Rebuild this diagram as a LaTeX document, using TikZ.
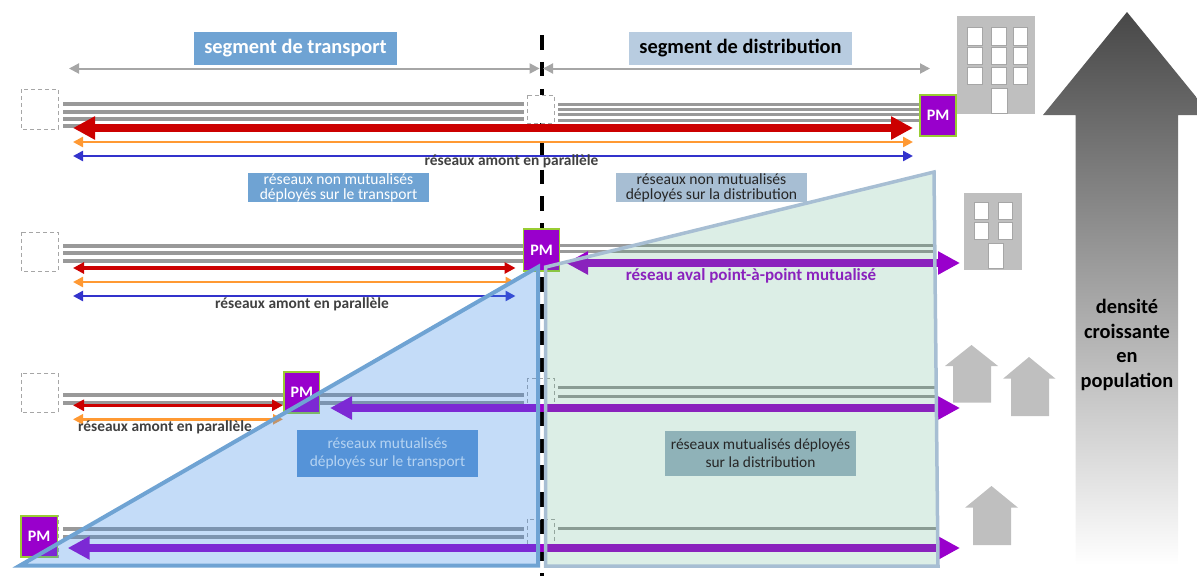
\documentclass[tikz,border=0pt]{standalone}
\usepackage{fontspec}
\setmainfont{Carlito}
\usetikzlibrary{arrows.meta}
\definecolor{pmv}{HTML}{9900CC}
\definecolor{pmg}{HTML}{99CC33}
\definecolor{lgray}{HTML}{999999}
\definecolor{agray}{HTML}{A6A6A6}
\definecolor{bgray}{HTML}{BFBFBF}
\definecolor{tblue}{HTML}{6FA3D3}
\definecolor{dblue}{HTML}{B8CCE0}
\definecolor{dblueb}{HTML}{A7BED3}
\definecolor{red1}{HTML}{CC0000}
\definecolor{ora}{HTML}{FF9933}
\definecolor{blu}{HTML}{3333CC}
\definecolor{dtxt}{HTML}{404040}
\newcommand{\fs}[2]{\fontsize{#1}{#2}\selectfont}
\newcommand{\hlink}[5]{\coordinate (#1a) at (#3,#5);\coordinate (#1b) at (#4,#5);\draw[#2] (#1a) -- (#1b);}
\tikzset{
  x=1pt,y=-1pt,
  every node/.style={inner sep=0pt,outer sep=0pt},
  pmbox/.style={draw=pmg,line width=1.2pt,fill=pmv,text=white,font=\bfseries\fs{16}{18},anchor=center},
  dbox/.style={draw=agray,dashed,line width=.9pt,dash pattern=on 4pt off 3pt},
  gline/.style={draw=lgray,line width=#1},
  gline/.default=3pt,
  redthick/.style={draw=red1,line width=8pt,{Triangle[length=22pt,width=22pt]}-{Triangle[length=22pt,width=22pt]}},
  purp/.style={draw=pmv,line width=7.3pt,{Triangle[length=22pt,width=22pt]}-{Triangle[length=22pt,width=22pt]}},
  redthin/.style={draw=red1,line width=3.2pt,{Triangle[length=11pt,width=11pt]}-{Triangle[length=11pt,width=11pt]}},
  orathin/.style={draw=ora,line width=2.4pt,{Triangle[length=10pt,width=10pt]}-{Triangle[length=10pt,width=10pt]}},
  bluthin/.style={draw=blu,line width=2.4pt,{Triangle[length=10pt,width=10pt]}-{Triangle[length=10pt,width=10pt]}},
  grayarr/.style={draw=agray,line width=2pt,{Triangle[length=10pt,width=10pt]}-{Triangle[length=10pt,width=10pt]}},
  label/.style={font=\fs{15.6}{15},align=center,anchor=center},
  amont/.style={font=\bfseries\fs{15.4}{15},text=dtxt,anchor=center},
  win/.style={draw=agray,line width=1pt,fill=white},
  bld/.style={fill=bgray},
}
\begin{document}
\begin{tikzpicture}
\useasboundingbox (0,0) rectangle (1197,576);
% frontier
\coordinate (fa) at (541.7,33); \coordinate (fb) at (541.7,576);
\draw[line width=3.6pt,black,dash pattern=on 14.5pt off 12.4pt,dash phase=-2pt] (fa) -- (fb);

% big arrow
\shade[top color=black!72,bottom color=white] (1127,12) -- (1197,98) -- (1197,115) -- (1178,115) -- (1178,565) -- (1075.5,565) -- (1075.5,115) -- (1043,115) -- cycle;
\node[font=\bfseries\fs{20.4}{24.5},align=center,anchor=center] (dens) at (1127,345) {densité\\croissante\\en\\population};

% buildings
\fill[bld] (957,16) rectangle (1035,114);
\foreach \cx in {967.5,991.5,1013}{\foreach \cy/\hh in {27/18,47/17,67/17}{\draw[win] (\cx,\cy) rectangle ++(14.5,\hh);}}
\draw[win] (991.5,88) rectangle (1007,113);
\fill[bld] (964,193) rectangle (1022,270);
\foreach \cx in {974,998}{\foreach \cy in {202,222}{\draw[win] (\cx,\cy) rectangle ++(14.5,17);}}
\draw[win] (988,243) rectangle (1003,268);
% houses
\fill[bgray] (971.5,345) -- (998,366) -- (991,366) -- (991,402.7) -- (953,402.7) -- (953,366) -- (945,366) -- cycle;
\fill[bgray] (1029,357) -- (1055.5,378.7) -- (1049,378.7) -- (1049,416) -- (1011,416) -- (1011,378.7) -- (1003,378.7) -- cycle;
\fill[bgray] (991.5,486) -- (1018,507.7) -- (1011,507.7) -- (1011,545) -- (973,545) -- (973,507.7) -- (965,507.7) -- cycle;

% dashed boxes
\draw[dbox] (21,89) rectangle (58,129);
\draw[dbox,fill=white] (527,95) rectangle (554,123);
\draw[dbox] (21,232) rectangle (58,271);
\draw[dbox] (21,373) rectangle (58,412.7);
\draw[dbox] (527,378) rectangle (554,408);
\draw[dbox] (21,515) rectangle (58,557);
\draw[dbox] (527,519) rectangle (554,548);

% gray arrows
\hlink{ga}{grayarr}{69}{539.6}{68.5}
\hlink{gb}{grayarr}{543}{930}{68.5}

% fibre lines
\hlink{l1}{gline=4pt}{63}{524}{104}
\hlink{l2}{gline=4pt}{63}{524}{111.7}
\hlink{l3}{gline=4pt}{63}{524}{119.3}
\hlink{l4}{gline=4pt}{63}{524}{126}
\hlink{l5}{gline=3pt}{558}{921}{104}
\hlink{l6}{gline=3pt}{558}{921}{109.3}
\hlink{l7}{gline=3pt}{558}{921}{114.7}
\hlink{l8}{gline=3pt}{558}{921}{120}
\hlink{m1}{gline=4pt}{63}{524}{245.7}
\hlink{m2}{gline=4pt}{63}{524}{253.3}
\hlink{m3}{gline=4pt}{63}{524}{261}
\hlink{m4}{gline=3pt}{559}{933}{245.7}
\hlink{m5}{gline=3pt}{559}{933}{251.7}
\hlink{n1}{gline=4pt}{63}{524}{395}
\hlink{n2}{gline=4pt}{63}{524}{402.7}
\hlink{n3}{gline=3pt}{558}{938}{387.3}
\hlink{n4}{gline=3pt}{558}{938}{396.3}
\hlink{p1}{gline=4pt}{63}{524}{529}
\hlink{p2}{gline=4pt}{63}{524}{536.7}
\hlink{p3}{gline=3pt}{558}{936}{528.7}

% PM boxes
\node[pmbox,minimum width=36pt,minimum height=41pt] (pm1) at (938,115.5) {PM};
\node[pmbox,minimum width=36pt,minimum height=42pt] (pm2) at (541.5,250) {PM};
\node[pmbox,minimum width=35.5pt,minimum height=41pt] (pm3) at (301.8,392.5) {PM};
\node[pmbox,minimum width=36.4pt,minimum height=41pt] (pm4) at (39.2,536.5) {PM};

% upstream arrows
\hlink{ra}{redthick}{73}{913}{128}
\hlink{oa}{orathin}{73}{913}{142}
\hlink{ba}{bluthin}{73}{913}{156}
\hlink{rb}{redthin}{73}{515.5}{268}
\hlink{ob}{orathin}{73}{515.5}{282}
\hlink{bb}{bluthin}{73}{515.5}{296}
\hlink{rc}{redthin}{73}{283}{405.3}
\hlink{oc}{orathin}{73}{283}{419.3}

% downstream arrows
\hlink{pa}{purp}{566}{960}{263}
\hlink{pb}{purp}{330}{960}{408}
\hlink{pc}{purp}{67.7}{960}{548}

% texts on arrows
\node[amont] (t1) at (511.5,161) {réseaux amont en parallèle};
\node[amont] (t2) at (302,304) {réseaux amont en parallèle};
\node[amont] (t3) at (165,427) {réseaux amont en parallèle};
\node[font=\bfseries\fs{17}{16},text=pmv,anchor=center] (t4) at (751,276) {réseau aval point-à-point mutualisé};

% top labels
\node[fill=tblue,text=white,font=\bfseries\fs{20.4}{20},minimum width=203pt,minimum height=33pt,anchor=center] (segt) at (295.5,48.5) {segment de transport};
\node[fill=dblue,text=black,font=\bfseries\fs{20.4}{20},minimum width=223pt,minimum height=33pt,anchor=center] (segd) at (740.5,48.5) {segment de distribution};
\node[label,fill=tblue,text=white,minimum width=181pt,minimum height=29pt] (nmt) at (338.5,187.5) {réseaux non mutualisés\\déployés sur le transport};
\node[label,fill=dblueb,text=black!85,minimum width=191pt,minimum height=29pt] (nmd) at (711.5,187.5) {réseaux non mutualisés\\déployés sur la distribution};

% overlay zones
\fill[fill={rgb,255:red,58;green,138;blue,232},fill opacity=.3] (20,565.5) -- (538,267) -- (538,565.5) -- cycle;
\fill[fill={rgb,255:red,80;green,170;blue,130},fill opacity=.2] (545.7,267) -- (934,172) -- (938,566) -- (545.7,566) -- cycle;
\draw[tblue,line width=4pt,line join=miter] (20,565.5) -- (538,267) -- (538,565.5) -- cycle;
\draw[dblueb,line width=3.5pt,line join=miter] (545.7,267) -- (934,172) -- (938,566) -- (545.7,566) -- cycle;

% zone labels
\node[font=\fs{15.4}{18},align=center,anchor=center,fill={rgb,255:red,85;green,147;blue,216},text={rgb,255:red,181;green,211;blue,242},minimum width=181pt,minimum height=46.7pt] (mt) at (387.5,453.3) {réseaux mutualisés\\déployés sur le transport};
\node[font=\fs{15.4}{18},align=center,anchor=center,fill={rgb,255:red,143;green,178;blue,184},text=black!85,minimum width=191pt,minimum height=44.7pt] (md) at (760.5,453.3) {réseaux mutualisés déployés\\sur la distribution};
\end{tikzpicture}
\end{document}
